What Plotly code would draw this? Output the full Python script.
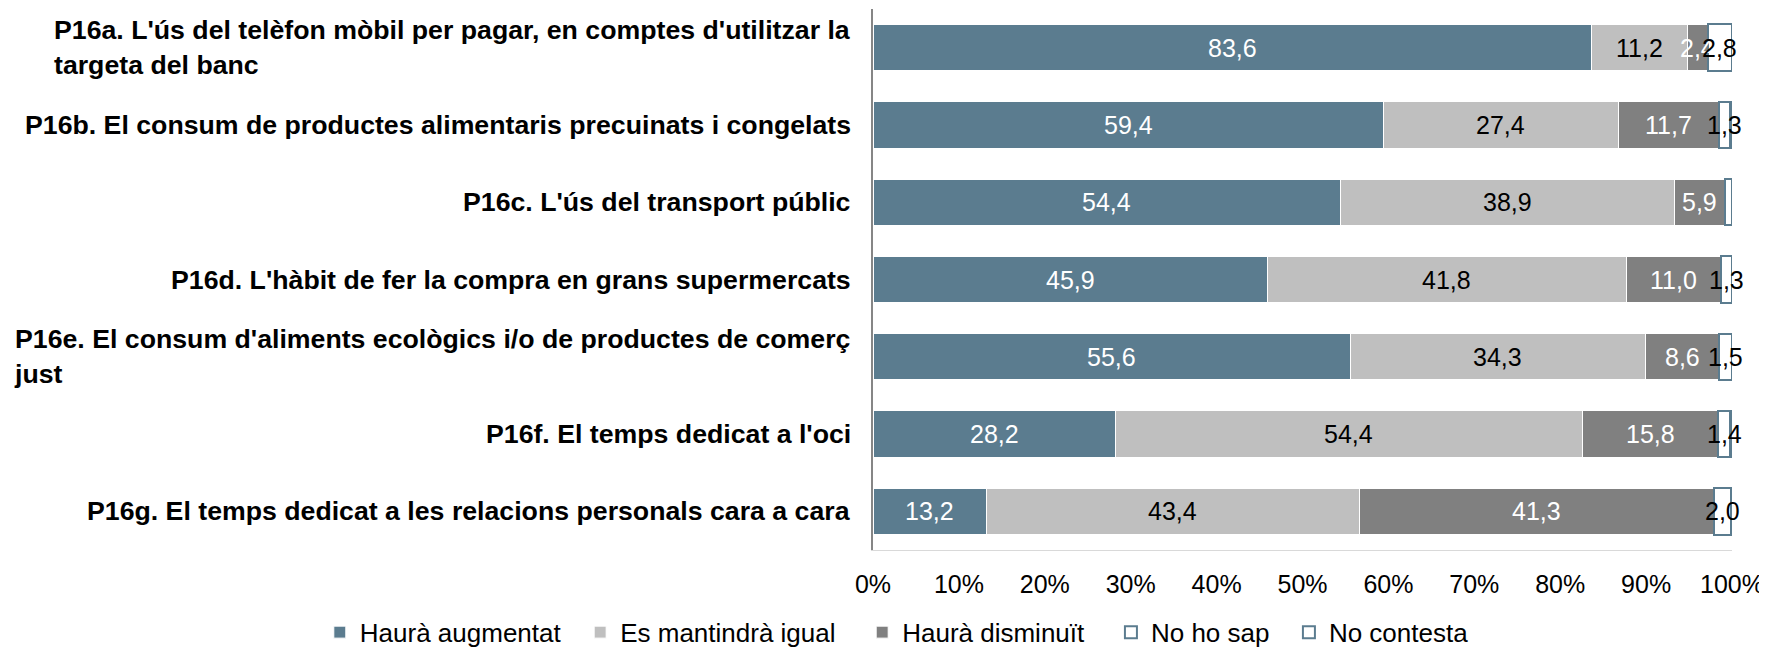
import plotly.graph_objects as go

categories = [
    "P16a. L'ús del telèfon mòbil per pagar, en comptes d'utilitzar la<br>targeta del banc",
    "P16b. El consum de productes alimentaris precuinats i congelats",
    "P16c. L'ús del transport públic",
    "P16d. L'hàbit de fer la compra en grans supermercats",
    "P16e. El consum d'aliments ecològics i/o de productes de comerç<br>just",
    "P16f. El temps dedicat a l'oci",
    "P16g. El temps dedicat a les relacions personals cara a cara",
]
keys = ["a", "b", "c", "d", "e", "f", "g"]

augmentat = [83.6, 59.4, 54.4, 45.9, 55.6, 28.2, 13.2]
igual = [11.2, 27.4, 38.9, 41.8, 34.3, 54.4, 43.4]
disminuit = [2.4, 11.7, 5.9, 11.0, 8.6, 15.8, 41.3]
no_ho_sap = [2.8, 1.3, 0.8, 1.3, 1.5, 1.4, 2.0]
no_contesta = [0.0, 0.2, 0.0, 0.0, 0.0, 0.2, 0.1]
no_ho_sap_shown = [True, True, False, True, True, True, True]

series_names = ["Haurà augmentat", "Es mantindrà igual", "Haurà disminuït", "No ho sap", "No contesta"]
tick_vals = [0, 10, 20, 30, 40, 50, 60, 70, 80, 90, 100]
tick_text = [f"{v}%" for v in tick_vals]

BLUE = "#5B7C8F"
FONT = "Liberation Sans, Arial, sans-serif"
FS = 25
FS_CAT = 26.7
FS_LEG = 26
legend_pad = ["\u00a0\u00a0", "\u00a0\u00a0\u00a0", "\u00a0\u00a0\u00a0", "\u00a0\u00a0", ""]


def fmt(v):
    return f"{v:.1f}".replace(".", ",")


fig = go.Figure()

specs = [
    (series_names[0], augmentat, BLUE, "white", 1, "white", [True] * 7),
    (series_names[1], igual, "#BFBFBF", "white", 1, "black", [True] * 7),
    (series_names[2], disminuit, "#808080", "white", 1, "white", [True] * 7),
    (series_names[3], no_ho_sap, "white", BLUE, 2, "black", no_ho_sap_shown),
    (series_names[4], no_contesta, "white", BLUE, 2, "black", [False] * 7),
]

cum = [0.0] * len(keys)
label_anns = []
for idx, (name, vals, fill, lc, lw, tc, shown) in enumerate(specs):
    fig.add_trace(go.Bar(
        name=name + legend_pad[idx],
        y=keys,
        x=vals,
        orientation="h",
        marker=dict(color=fill, line=dict(color=lc, width=lw)),
        hoverinfo="skip",
    ))
    for i, (k, v, s) in enumerate(zip(keys, vals, shown)):
        if s:
            label_anns.append(dict(
                x=cum[i] + v / 2, xref="x", y=k, yref="y",
                text=fmt(v), showarrow=False,
                xanchor="center", yanchor="middle",
                font=dict(family=FONT, size=FS, color=tc),
            ))
        cum[i] += v

for a in label_anns:
    fig.add_annotation(**a)

for k, label in zip(keys, categories):
    fig.add_annotation(
        x=0, xref="paper", y=k, yref="y",
        text=f"<b>{label}</b>",
        showarrow=False,
        xanchor="right", yanchor="middle",
        align="left",
        xshift=-20,
        font=dict(family=FONT, size=FS_CAT, color="black"),
    )

fig.update_layout(
    barmode="stack",
    bargap=0.4,
    width=1759,
    height=642,
    margin=dict(l=865, r=35, t=1, b=100, autoexpand=False),
    plot_bgcolor="white",
    paper_bgcolor="white",
    font=dict(family=FONT, size=FS, color="black"),
    legend=dict(
        orientation="h",
        xref="paper", x=-0.644, xanchor="left",
        yref="paper", y=-0.152, yanchor="middle",
        font=dict(family=FONT, size=FS_LEG, color="black"),
        traceorder="normal",
        itemwidth=30,
    ),
    xaxis=dict(
        range=[0, 100],
        tickvals=tick_vals,
        ticktext=tick_text,
        showgrid=False,
        zeroline=False,
        showline=True,
        linecolor="#D9D9D9",
        linewidth=1,
        ticks="",
        ticklabelstandoff=12,
        tickfont=dict(family=FONT, size=FS, color="black"),
    ),
    yaxis=dict(
        categoryorder="array",
        categoryarray=keys,
        autorange="reversed",
        showticklabels=False,
        showgrid=False,
        zeroline=False,
        showline=True,
        linecolor="#868686",
        linewidth=2,
        ticks="",
    ),
)

fig.write_html("out.html")
